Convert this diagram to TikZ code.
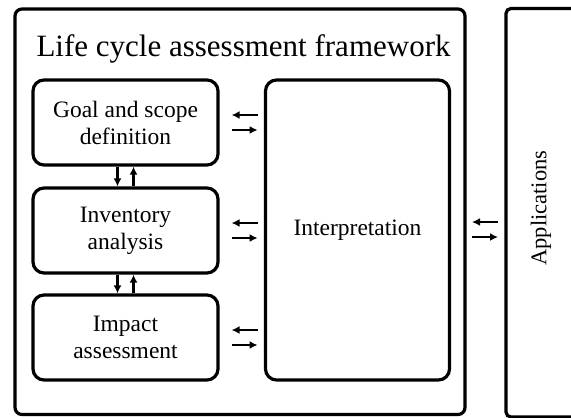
\documentclass[tikz,border=0pt]{standalone}
\usepackage{fontspec}
\setmainfont{Liberation Serif}
\usetikzlibrary{arrows.meta}
\tikzset{
  frame/.style={draw, line width=3.2pt, rounded corners=7pt},
  stage/.style={draw, line width=3.2pt, rounded corners=11pt, align=center,
    font=\fontsize{23.5}{27}\selectfont},
  link/.style={line width=2.2pt, -{Latex[length=8pt,width=8pt]}},
}
\begin{document}
\begin{tikzpicture}[x=1pt,y=-1pt]
\useasboundingbox (0,0) rectangle (571,418);
\begin{scope}
\clip (0,0) rectangle (571,418);
% outer framework and the applications panel
\draw[frame] (15,9) rectangle (465,414.5);
\draw[frame, rounded corners=5pt] (506,8.5) rectangle (600,417);
\end{scope}
\node[font=\fontsize{31}{36}\selectfont, anchor=base west] (title) at (33,56.5) {Life cycle assessment framework};

% phase boxes
\node[stage, minimum width=185pt, minimum height=85pt] (goal) at (125.5,122.5) {Goal and scope\\definition};
\node[stage, minimum width=185pt, minimum height=85pt] (inv) at (125.5,230.5) {Inventory\\analysis};
\node[stage, minimum width=185pt, minimum height=85pt] (imp) at (125.5,337.5) {Impact\\assessment};
\node[stage, minimum width=184pt, minimum height=300pt] (interp) at (357.5,230) {Interpretation};
\node[rotate=90, font=\fontsize{22.5}{26}\selectfont] (app) at (541,208) {Applications};

% vertical links between phases
\draw[link] ([xshift=-8pt]goal.south) -- ([xshift=-8pt]inv.north);
\draw[link] ([xshift=8pt]inv.north) -- ([xshift=8pt]goal.south);
\draw[link] ([xshift=-8pt]inv.south) -- ([xshift=-8pt]imp.north);
\draw[link] ([xshift=8pt]imp.north) -- ([xshift=8pt]inv.south);

% horizontal links to interpretation
\foreach \n in {goal,inv,imp}{
  \coordinate (a) at ([xshift=12pt,yshift=7.5pt]\n.east);
  \coordinate (b) at ([xshift=38pt,yshift=7.5pt]\n.east);
  \coordinate (c) at ([xshift=12pt,yshift=-7.5pt]\n.east);
  \coordinate (d) at ([xshift=38pt,yshift=-7.5pt]\n.east);
  \draw[link] (b) -- (a);
  \draw[link] (c) -- (d);
}
% links between framework and applications
\coordinate (fa) at (472,222);
\coordinate (fb) at (498,222);
\coordinate (fc) at (472,237);
\coordinate (fd) at (498,237);
\draw[link] (fb) -- (fa);
\draw[link] (fc) -- (fd);
\end{tikzpicture}
\end{document}
